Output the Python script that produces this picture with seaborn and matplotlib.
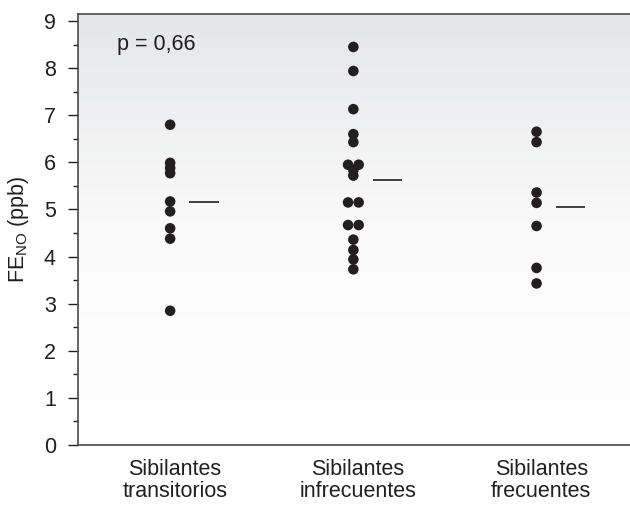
import matplotlib
matplotlib.use("Agg")
import matplotlib.pyplot as plt
from matplotlib.colors import LinearSegmentedColormap
import seaborn as sns
import pandas as pd
import numpy as np

# valores FeNO (ppb) leídos por grupo
grupos = ["Sibilantes\ntransitorios", "Sibilantes\ninfrecuentes", "Sibilantes\nfrecuentes"]
transitorios = [6.80, 5.99, 5.88, 5.77, 5.17, 4.96, 4.60, 4.38, 2.85]
infrecuentes = [8.45, 7.94, 7.13, 6.60, 6.43, 5.95, 5.95, 5.83, 5.72,
                5.15, 5.15, 4.67, 4.67, 4.36, 4.14, 3.94, 3.73]
frecuentes = [6.65, 6.43, 5.36, 5.14, 4.65, 3.76, 3.43]
p_texto = "p = 0,66"

sns.set_style("ticks")
plt.rcParams["font.family"] = ["Liberation Sans", "DejaVu Sans"]
plt.rcParams["mathtext.default"] = "regular"

FS = 15.5

filas = []
for i, valores in enumerate([transitorios, infrecuentes, frecuentes]):
    vistos = {}
    for v in valores:
        n = valores.count(v)
        k = vistos.get(v, 0)
        vistos[v] = k + 1
        # valores repetidos se dibujan lado a lado
        dx = (k - (n - 1) / 2) * 0.058 if n > 1 else 0.0
        filas.append({"grupo": i, "x": i + dx, "FeNO": v})
df = pd.DataFrame(filas)

fig = plt.figure(figsize=(6.3, 5.05), dpi=100)
ax = fig.add_axes([78 / 630, 60 / 505, 1 - 78 / 630, 431 / 505])

xlim = (-0.503, 2.51)
ylim = (0, 9.15)

# fondo degradado gris -> blanco
cmap = LinearSegmentedColormap.from_list("fondo", ["#ffffff", "#fafafa", "#e5e6e8"])
grad = np.linspace(0, 1, 256)[:, None]
ax.imshow(grad, extent=[xlim[0], xlim[1], ylim[0], ylim[1]], origin="lower",
          aspect="auto", cmap=cmap, zorder=0)

sns.scatterplot(data=df, x="x", y="FeNO", color="#231f20", s=58,
                edgecolor="none", ax=ax, zorder=3)

medias = df.groupby("grupo")["FeNO"].mean()
for i, m in medias.items():
    ax.hlines(m, i + 0.105, i + 0.265, color="#231f20", lw=1.2, zorder=3)

ax.text(-0.29, 8.5, p_texto, fontsize=FS, va="center", ha="left", color="#231f20")

ax.set_xlim(*xlim)
ax.set_ylim(*ylim)
ax.set_xticks(np.arange(3) + 0.025)
ax.set_xticklabels(grupos, fontsize=FS, color="#231f20", linespacing=1.1)
ax.set_yticks(range(10))
ax.set_yticks(np.arange(0.5, 9, 1), minor=True)
ax.tick_params(axis="y", labelsize=FS, length=7, width=1, pad=9,
               colors="#231f20", labelcolor="#231f20")
ax.tick_params(axis="y", which="minor", length=3.5, width=1, color="#231f20")
ax.tick_params(axis="x", length=0, pad=10)
ax.set_xlabel("")
ax.set_ylabel(r"FE$_{NO}$ (ppb)", fontsize=FS, color="#231f20", labelpad=9)

for s in ["left", "bottom", "top"]:
    ax.spines[s].set_visible(True)
    ax.spines[s].set_color("#4a4a4a")
    ax.spines[s].set_linewidth(1.2)
ax.spines["right"].set_visible(False)

fig.savefig("out.png", dpi=100)
